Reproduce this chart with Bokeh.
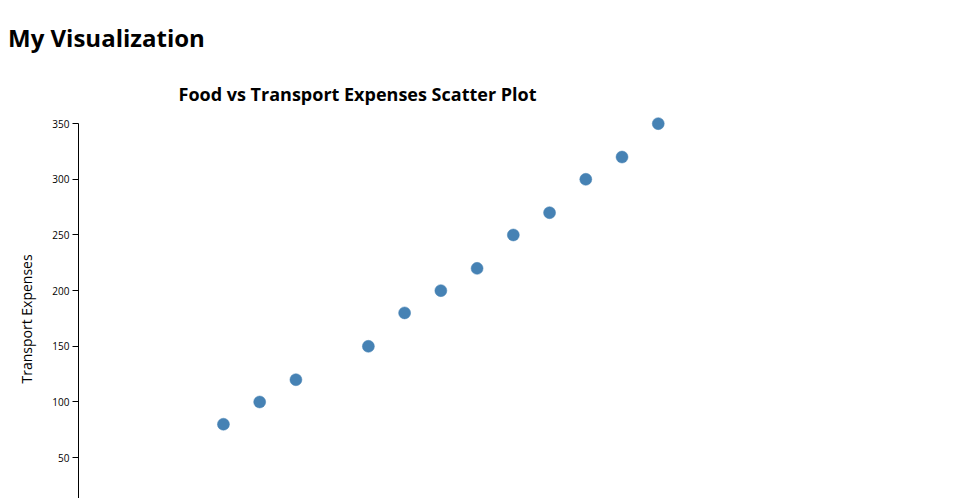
from bokeh.plotting import figure
from bokeh.models import Range1d, Div, FixedTicker, Title
from bokeh.layouts import column
from bokeh.embed import file_html
from bokeh.resources import INLINE

food = [200, 250, 300, 400, 450, 500, 550, 600, 650, 700, 750, 800]
transport = [80, 100, 120, 150, 180, 200, 220, 250, 270, 300, 320, 350]
y_ticks = [50, 100, 150, 200, 250, 300, 350]

heading = Div(text="My Visualization", width=400, height=36, margin=(21, 0, 0, 8),
              styles={"font-family": "Open Sans", "font-size": "24px", "font-weight": "bold",
                      "color": "#000", "line-height": "normal"})

p = figure(width=940, height=441, output_backend="svg", toolbar_location=None,
           x_range=Range1d(0, 850), y_range=Range1d(13.3, 360),
           min_border_left=78, min_border_right=246, min_border_top=55, min_border_bottom=0,
           margin=(0, 0, 0, 0))
p.title.text = "Food vs Transport Expenses Scatter Plot"
p.title.text_font = "Open Sans"
p.title.text_font_size = "18px"
p.title.text_font_style = "bold"
p.title.text_color = "#000"
p.title.align = "left"
p.title.offset = 100
p.title.standoff = 13
p.outline_line_color = None
p.grid.visible = False
p.xaxis.visible = False

ya = p.yaxis[0]
ya.ticker = FixedTicker(ticks=y_ticks)
ya.bounds = (0, 350)
ya.minor_tick_line_color = None
ya.major_tick_out = 6
ya.major_tick_in = 0
ya.major_label_standoff = 3
ya.major_label_text_font = "Open Sans"
ya.major_label_text_font_size = "10px"
ya.major_label_text_color = "#000"
ya.axis_line_color = "#000"
ya.major_tick_line_color = "#000"

ylabel = Title(text="Transport Expenses", align="left", offset=115, standoff=28,
               text_font="Open Sans", text_font_size="14px", text_font_style="normal",
               text_color="#000")
p.add_layout(ylabel, "left")

p.scatter(food, transport, size=12, fill_color="steelblue", line_color="steelblue", line_width=0.5)

layout = column(heading, p, spacing=0)
open("out.html", "w").write(file_html(layout, INLINE))
